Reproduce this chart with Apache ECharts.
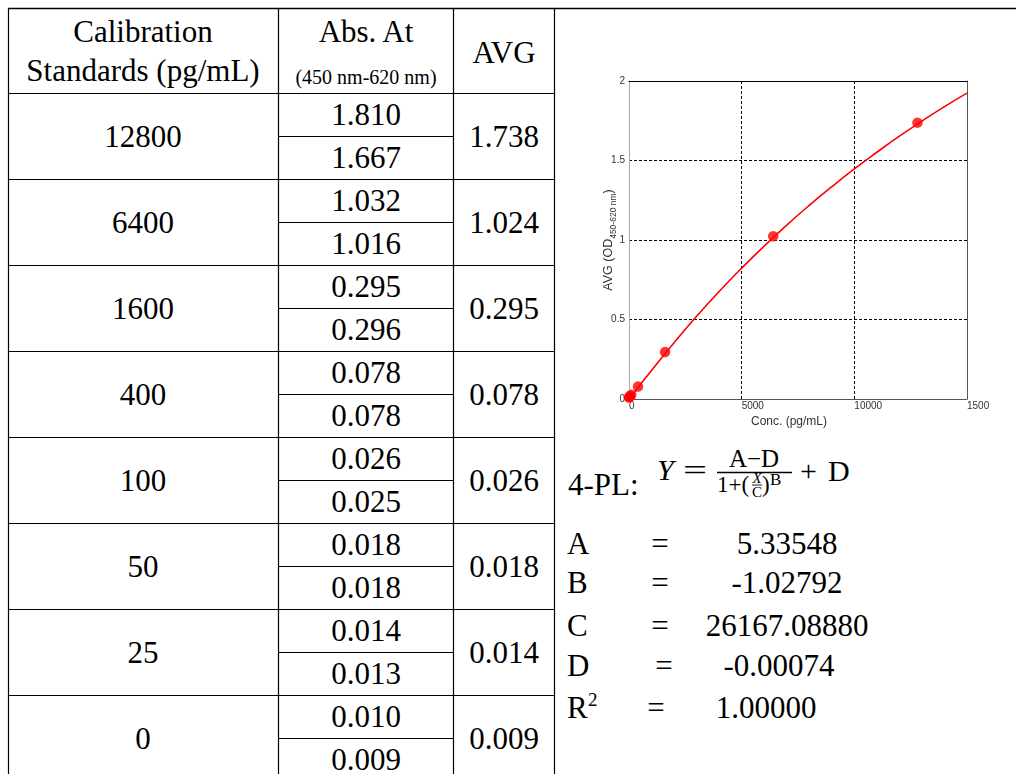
<!DOCTYPE html>
<html><head><meta charset="utf-8">
<script src="https://cdn.jsdelivr.net/npm/echarts@6/dist/echarts.min.js"></script>
<style>
html,body{margin:0;padding:0;width:1016px;height:774px;overflow:hidden;background:#fff;}
#page{position:relative;width:1016px;height:774px;}
#tbl{position:absolute;left:0;top:0;width:1016px;height:774px;}
#chart{position:absolute;left:560px;top:60px;width:456px;height:380px;}
</style></head>
<body><div id="page">
<svg id="tbl" xmlns="http://www.w3.org/2000/svg" width="1016" height="774"></svg>
<div id="chart"></div>
</div>
<script>
// ---- data ----
const standards = ['12800','6400','1600','400','100','50','25','0'];
const absRep1 = ['1.810','1.032','0.295','0.078','0.026','0.018','0.014','0.010'];
const absRep2 = ['1.667','1.016','0.296','0.078','0.025','0.018','0.013','0.009'];
const avgLabels = ['1.738','1.024','0.295','0.078','0.026','0.018','0.014','0.009'];
const headers = ['Calibration','Standards (pg/mL)','Abs. At','(450 nm-620 nm)','AVG'];
const pointConc = [12800,6400,1600,400,100,50,25,0];
const pointAvg = [1.738,1.024,0.295,0.078,0.026,0.018,0.014,0.009];
const curveConc = [0,250,500,1000,2000,3000,4000,5000,6000,7000,8000,9000,10000,11000,12000,13000,14000,15000];
const curveAvg = [0.00,0.044,0.09,0.18,0.354,0.52,0.676,0.823,0.962,1.094,1.218,1.335,1.447,1.552,1.653,1.748,1.839,1.924];
const xTickLabels = {0:'0',5000:'5000',10000:'10000',15000:'1500'};
const yTickLabels = {0:'0',0.5:'0.5',1:'1',1.5:'1.5',2:'2'};
const paramNames = ['A','B','C','D','R'];
const paramValues = ['5.33548','-1.02792','26167.08880','-0.00074','1.00000'];
const xAxisName = 'Conc. (pg/mL)';
const yAxisName = '{a|AVG (OD}{s|450-620 nm}{a|)}';

// ---- table / text (SVG) ----
const NS='http://www.w3.org/2000/svg';
const svg=document.getElementById('tbl');
const SERIF="'Liberation Serif','Times New Roman',serif";
function ln(x1,y1,x2,y2,w){const e=document.createElementNS(NS,'line');e.setAttribute('x1',x1);e.setAttribute('y1',y1);e.setAttribute('x2',x2);e.setAttribute('y2',y2);e.setAttribute('stroke','#000');e.setAttribute('stroke-width',w||1.2);svg.appendChild(e);return e;}
function tx(x,y,s,o){o=o||{};const e=document.createElementNS(NS,'text');e.setAttribute('x',x);e.setAttribute('y',y);e.setAttribute('font-family',o.ff||SERIF);e.setAttribute('font-size',o.fs||31);e.setAttribute('text-anchor',o.anchor||'middle');e.setAttribute('fill','#000');if(o.italic)e.setAttribute('font-style','italic');if(o.len){e.setAttribute('textLength',o.len);e.setAttribute('lengthAdjust','spacingAndGlyphs');}e.textContent=s;svg.appendChild(e);return e;}

const colX=[8.5,278.5,453.5,554.5];
const c1=143,c2=366,c3=504;
ln(8,8.5,1016,8.5,1.6);
colX.forEach(x=>ln(x,8,x,774));
for(let k=0;k<8;k++){
  const top=93.5+86*k;
  ln(8,top,554.5,top);
  ln(278.5,top+43,453.5,top+43);
}
tx(c1,42,headers[0]);
tx(c1,81,headers[1]);
tx(c2,42,headers[2]);
tx(c2,84,headers[3],{fs:20});
tx(c3,63,headers[4]);
standards.forEach((s,k)=>{
  const c=136+86*k;
  tx(c1,c+10.5,s);
  tx(c2,c-11,absRep1[k]);
  tx(c2,c+32,absRep2[k]);
  tx(c3,c+10.5,avgLabels[k]);
});

// formula
tx(568,495,'4-PL:',{anchor:'start'});
tx(657,480,'Y',{anchor:'start',italic:true,fs:30});
tx(683,480,'=',{anchor:'start',fs:30,len:24});
tx(754,467,'A\u2212D',{fs:25});
ln(717,472.5,792,472.5,1.3);
tx(717,492,'1+(',{anchor:'start',fs:23});
tx(757,483,'X',{italic:true,fs:15});
ln(752,485,762,485,0.9);
tx(757,497,'C',{fs:15});
tx(762,492,')',{anchor:'start',fs:23});
tx(770,485,'B',{anchor:'start',fs:17});
tx(800,481,'+',{anchor:'start',fs:30});
tx(828,481,'D',{anchor:'start',fs:30});

// parameters
const pBase=[553.5,592.5,635.5,675.5,717.5];
const pEq=[660,660,660,664,656];
const pVal=[787,787,787,779,766];
paramNames.forEach((n,i)=>{
  tx(567,pBase[i],n,{anchor:'start'});
  tx(pEq[i],pBase[i],'=');
  tx(pVal[i],pBase[i],paramValues[i]);
});
tx(588,pBase[4]-12,'2',{anchor:'start',fs:19});

// ---- chart ----
const SANS="'Liberation Sans',Arial,sans-serif";
const chart=echarts.init(document.getElementById('chart'));
chart.setOption({
  animation:false,
  grid:{left:69,top:21,width:338,height:318,containLabel:false},
  xAxis:[{
    type:'value',min:0,max:15000,interval:5000,
    name:xAxisName,nameLocation:'middle',nameGap:17,nameMoveOverlap:false,
    nameTextStyle:{fontFamily:SANS,fontSize:12,color:'#333',padding:[0,18,0,0]},
    axisLine:{show:true,onZero:false,lineStyle:{color:'#555',width:1}},
    axisTick:{show:false},
    axisLabel:{fontFamily:SANS,fontSize:10,color:'#333',margin:2,align:'left',formatter:v=>xTickLabels[v]!==undefined?xTickLabels[v]:''},
    splitLine:{show:true,showMinLine:false,showMaxLine:false,lineStyle:{color:'#000',type:[3,2],width:1}}
  },{
    type:'value',position:'top',min:0,max:15000,interval:5000,
    axisLine:{show:true,onZero:false,lineStyle:{color:'#000',width:1}},
    axisTick:{show:false},axisLabel:{show:false},splitLine:{show:false}
  }],
  yAxis:[{
    type:'value',min:0,max:2,interval:0.5,
    name:yAxisName,nameLocation:'middle',nameGap:11,nameRotate:90,nameMoveOverlap:false,
    nameTextStyle:{rich:{a:{fontFamily:SANS,fontSize:12.5,color:'#333',lineHeight:18},s:{fontFamily:SANS,fontSize:8.5,color:'#333',lineHeight:18,verticalAlign:'bottom'}}},
    axisLine:{show:true,onZero:false,lineStyle:{color:'#aaa',width:1}},
    axisTick:{show:false},
    axisLabel:{fontFamily:SANS,fontSize:10,color:'#333',margin:4,formatter:v=>yTickLabels[v]!==undefined?yTickLabels[v]:''},
    splitLine:{show:true,showMinLine:false,showMaxLine:false,lineStyle:{color:'#000',type:[3,2],width:1}}
  },{
    type:'value',position:'right',min:0,max:2,interval:0.5,
    axisLine:{show:true,onZero:false,lineStyle:{color:'#555',width:1}},
    axisTick:{show:false},axisLabel:{show:false},splitLine:{show:false}
  }],
  series:[{
    type:'line',data:curveConc.map((x,i)=>[x,curveAvg[i]]),smooth:true,showSymbol:false,silent:true,
    lineStyle:{color:'#ff0000',width:1.6}
  },{
    type:'scatter',data:pointConc.map((x,i)=>[x,pointAvg[i]]),symbol:'circle',symbolSize:10.5,
    itemStyle:{color:'#ff0000'}
  }]
});
</script>
</body></html>
